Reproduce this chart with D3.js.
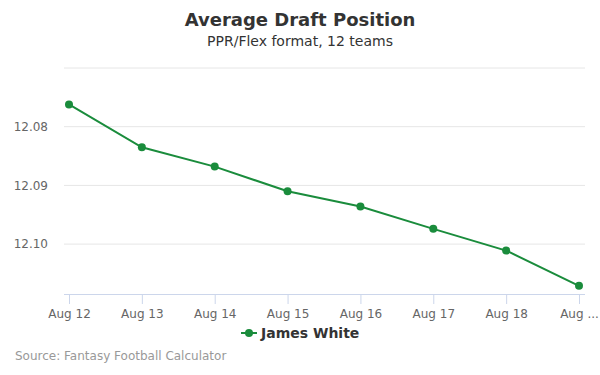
<!DOCTYPE html>
<html>
<head>
<meta charset="utf-8">
<script src="https://cdn.jsdelivr.net/npm/d3@7"></script>
<style>
  body { margin: 0; background: #fff; }
  svg { font-family: 'DejaVu Sans', sans-serif; }
</style>
</head>
<body>
<svg width="600" height="375"></svg>
<script>
const dates = ['Aug 12', 'Aug 13', 'Aug 14', 'Aug 15', 'Aug 16', 'Aug 17', 'Aug 18', 'Aug 19']
const xLabels = ['Aug 12', 'Aug 13', 'Aug 14', 'Aug 15', 'Aug 16', 'Aug 17', 'Aug 18', 'Aug ...']
const adp = [12.0762, 12.0835, 12.0868, 12.0910, 12.0936, 12.0974, 12.1011, 12.1071]
const yTicks = [12.07, 12.08, 12.09, 12.10]
const yLabels = ['', '12.08', '12.09', '12.10']
const seriesName = 'James White'
const color = '#1a8c3c'

const svg = d3.select('svg')
const margin = { top: 68, right: 15, bottom: 81, left: 64 }
const width = +svg.attr('width') - margin.left - margin.right
const height = +svg.attr('height') - margin.top - margin.bottom

// title
svg.append('text')
  .attr('x', 300).attr('y', 26)
  .attr('text-anchor', 'middle')
  .attr('font-size', 18).attr('font-weight', 'bold').attr('fill', '#333')
  .text('Average Draft Position')
svg.append('text')
  .attr('x', 300).attr('y', 46)
  .attr('text-anchor', 'middle')
  .attr('font-size', 14).attr('fill', '#333')
  .text('PPR/Flex format, 12 teams')

const g = svg.append('g').attr('transform', 'translate(' + margin.left + ',' + margin.top + ')')

const x = d3.scalePoint()
  .domain(dates)
  .range([5, width - 6])

// reversed: lower pick at top
const y = d3.scaleLinear()
  .domain([12.07, 12.1085])
  .range([0, height])

// grid
g.append('g')
  .selectAll('line')
  .data(yTicks)
  .enter().append('line')
  .attr('x1', 0).attr('x2', width)
  .attr('y1', d => y(d)).attr('y2', d => y(d))
  .attr('stroke', '#e6e6e6')

const yAxis = d3.axisLeft(y)
  .tickValues(yTicks)
  .tickSize(0)
  .tickPadding(16)
  .tickFormat((d, i) => yLabels[i])
const gy = g.append('g').call(yAxis)
gy.select('.domain').remove()
gy.selectAll('text').attr('font-size', 12).attr('fill', '#666').attr('font-family', 'DejaVu Sans, sans-serif')

const xAxis = d3.axisBottom(x)
  .tickSize(10)
  .tickPadding(5)
  .tickFormat((d, i) => xLabels[i])
const gx = g.append('g')
  .attr('transform', 'translate(0,' + height + ')')
  .call(xAxis)
gx.select('.domain').attr('stroke', '#ccd6eb').attr('d', 'M0,0.5H' + width)
gx.selectAll('.tick line').attr('stroke', '#ccd6eb')
gx.selectAll('text').attr('font-size', 12).attr('fill', '#666').attr('font-family', 'DejaVu Sans, sans-serif')

const line = d3.line()
  .x((d, i) => x(dates[i]))
  .y(d => y(d))

g.append('path')
  .datum(adp)
  .attr('fill', 'none')
  .attr('stroke', color)
  .attr('stroke-width', 2)
  .attr('d', line)

g.selectAll('.dot')
  .data(adp)
  .enter().append('circle')
  .attr('class', 'dot')
  .attr('cx', (d, i) => x(dates[i]))
  .attr('cy', d => y(d))
  .attr('r', 4)
  .attr('fill', color)

// legend
const legend = svg.append('g').attr('transform', 'translate(241,333)')
legend.append('line')
  .attr('x1', 0).attr('x2', 16)
  .attr('stroke', color).attr('stroke-width', 2)
legend.append('circle').attr('cx', 8).attr('r', 4).attr('fill', color)
legend.append('text')
  .attr('x', 20).attr('y', 5)
  .attr('font-size', 14).attr('font-weight', 'bold').attr('fill', '#333')
  .text(seriesName)

svg.append('text')
  .attr('x', 15).attr('y', 360)
  .attr('font-size', 12).attr('fill', '#999')
  .text('Source: Fantasy Football Calculator')
</script>
</body>
</html>
